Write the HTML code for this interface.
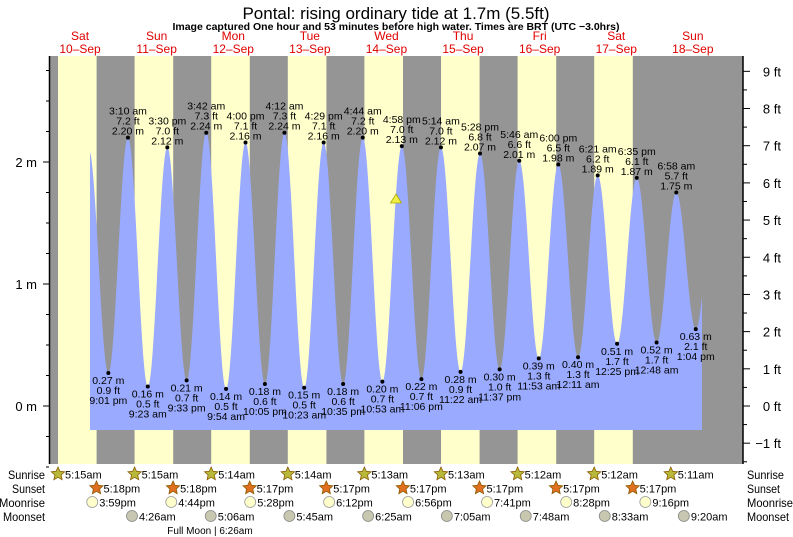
<!DOCTYPE html>
<html><head><meta charset="utf-8"><style>
body{margin:0;background:#fff;}
svg{display:block;font-family:"Liberation Sans",sans-serif;}
</style></head><body>
<svg id="s" width="793" height="537" viewBox="0 0 793 537" xmlns="http://www.w3.org/2000/svg">
<rect x="0" y="0" width="793" height="537" fill="#fff"/>
<text x="396" y="19" font-size="17" text-anchor="middle" fill="#000">Pontal: rising  ordinary tide at 1.7m (5.5ft)</text>
<text x="396" y="30" font-size="10.5" font-weight="bold" text-anchor="middle" fill="#000">Image captured One hour and 53 minutes before high water. Times are BRT (UTC −3.0hrs)</text>
<g id="g"></g>
</svg>
<script>
var NS="http://www.w3.org/2000/svg",g=document.getElementById('g');
function el(t,a,txt){var e=document.createElementNS(NS,t);for(var k in a)e.setAttribute(k,a[k]);if(txt!=null)e.textContent=txt;g.appendChild(e);return e;}
var X0=41.25,PH=76.6/24;
function X(h){return X0+h*PH;}
function Y(m){return 406-m*122;}
el('rect',{x:50,y:56,width:693,height:408,fill:'#959595'});
for(var k=0;k<8;k++){el('rect',{x:58+76.6*k,y:56,width:38.6,height:408,fill:'#ffffcc'});}
var days=[['Sat','10–Sep'],['Sun','11–Sep'],['Mon','12–Sep'],['Tue','13–Sep'],['Wed','14–Sep'],['Thu','15–Sep'],['Fri','16–Sep'],['Sat','17–Sep'],['Sun','18–Sep']];
days.forEach(function(d,i){var cx=X(12+24*i)+0.5;el('text',{x:cx,y:40,'font-size':12,fill:'#e00000','text-anchor':'middle'},d[0]);el('text',{x:cx,y:53,'font-size':12,fill:'#e00000','text-anchor':'middle'},d[1]);});
var P=[[14.9,2.1,0],[21.02,0.27,'9:01 pm'],[27.17,2.20,'3:10 am'],[33.38,0.16,'9:23 am'],[39.5,2.12,'3:30 pm'],[45.55,0.21,'9:33 pm'],[51.7,2.24,'3:42 am'],[57.9,0.14,'9:54 am'],[64,2.16,'4:00 pm'],[70.08,0.18,'10:05 pm'],[76.2,2.24,'4:12 am'],[82.38,0.15,'10:23 am'],[88.48,2.16,'4:29 pm'],[94.58,0.18,'10:35 pm'],[100.73,2.20,'4:44 am'],[106.88,0.20,'10:53 am'],[112.97,2.13,'4:58 pm'],[119.1,0.22,'11:06 pm'],[125.23,2.12,'5:14 am'],[131.37,0.28,'11:22 am'],[137.47,2.07,'5:28 pm'],[143.62,0.30,'11:37 pm'],[149.77,2.01,'5:46 am'],[155.88,0.39,'11:53 am'],[162,1.98,'6:00 pm'],[168.18,0.40,'12:11 am'],[174.35,1.89,'6:21 am'],[180.42,0.51,'12:25 pm'],[186.58,1.87,'6:35 pm'],[192.8,0.52,'12:48 am'],[198.97,1.75,'6:58 am'],[205.07,0.63,'1:04 pm'],[211.2,1.8,0]];
var hs=(90-X0)/PH,he=(702-X0)/PH,d='M90,430';
for(var h=hs;h<=he+0.001;h+=0.05){var i=0;while(i<P.length-2&&P[i+1][0]<h)i++;var a=P[i],b=P[i+1];var t=(h-a[0])/(b[0]-a[0]);var v=a[1]+(b[1]-a[1])*(1-Math.cos(Math.PI*t))/2;d+=' L'+X(h).toFixed(2)+','+Y(v).toFixed(2);}
d+=' L702,430 Z';
el('path',{d:d,fill:'#99aaff'});
P.forEach(function(p,i){if(!p[2])return;var x=X(p[0]),y=Y(p[1]);el('circle',{cx:x,cy:y,r:2,fill:'#000'});var f=(p[1]/0.3048).toFixed(1)+' ft',m=p[1].toFixed(2)+' m';var hi=p[1]>1;var a={'font-size':10.5,'text-anchor':'middle',fill:'#000'};
if(hi){a.x=x;a.y=y-23;el('text',a,p[2]);a.y=y-13;el('text',a,f);a.y=y-3;el('text',a,m);}
else{a.x=x;a.y=y+11;el('text',a,m);a.y=y+21;el('text',a,f);a.y=y+31;el('text',a,p[2]);}});
el('polygon',{points:'390.5,203 401.5,203 396,194',fill:'#eeee44',stroke:'#aaaa00','stroke-width':0.8});
el('line',{x1:49.5,y1:56,x2:49.5,y2:464,stroke:'#000','stroke-width':1.5});
el('line',{x1:743,y1:56,x2:743,y2:464,stroke:'#000','stroke-width':1.5});
for(var m=-0.5;m<=2.75;m+=0.25){var y=Y(m);var big=Math.abs(m-Math.round(m))<0.01;el('line',{x1:big?43:46,y1:y,x2:49,y2:y,stroke:'#000'});if(big)el('text',{x:37,y:y+5,'font-size':13,'text-anchor':'end',fill:'#000'},Math.round(m)+' m');}
for(var f2=-1.5;f2<=9.5;f2+=0.5){var y=Y(f2*0.3048);if(y<56||y>464)continue;var big=Math.abs(f2-Math.round(f2))<0.01;el('line',{x1:743,y1:y,x2:big?750:747,y2:y,stroke:'#000'});if(big)el('text',{x:781,y:y+5,'font-size':13,'text-anchor':'end',fill:'#000'},(f2<0?'−1':Math.round(f2))+' ft');}
var rows=['Sunrise','Sunset','Moonrise','Moonset'],ry=[474,488,502,516],lw=[37,33,46,42];
rows.forEach(function(r,i){el('text',{x:45,y:ry[i]+5,'font-size':12,'text-anchor':'end',textLength:lw[i],lengthAdjust:'spacingAndGlyphs',fill:'#000'},r);el('text',{x:747,y:ry[i]+5,'font-size':12,textLength:lw[i],lengthAdjust:'spacingAndGlyphs',fill:'#000'},r);});
function star(x,y,fc){var pts=[];for(var k=0;k<10;k++){var r=k%2?3.3:7,a=-Math.PI/2+k*Math.PI/5;pts.push((x+r*Math.cos(a)).toFixed(1)+','+(y+r*Math.sin(a)).toFixed(1));}el('polygon',{points:pts.join(' '),fill:fc,stroke:'#8a5a00','stroke-width':0.8});}
function txt(x,y,s){el('text',{x:x,y:y+4.5,'font-size':11,fill:'#000'},s);}
var sr=['5:15am','5:15am','5:14am','5:14am','5:13am','5:13am','5:12am','5:12am','5:11am'];
var ss=['5:18pm','5:18pm','5:17pm','5:17pm','5:17pm','5:17pm','5:17pm','5:17pm'];
var mr=[['3:59pm',15.98],['4:44pm',16.73],['5:28pm',17.47],['6:12pm',18.2],['6:56pm',18.93],['7:41pm',19.68],['8:28pm',20.47],['9:16pm',21.27]];
var ms=[['4:26am',4.43],['5:06am',5.1],['5:45am',5.75],['6:25am',6.42],['7:05am',7.08],['7:48am',7.8],['8:33am',8.55],['9:20am',9.33]];
sr.forEach(function(s,i){var x=X(24*i+5.25);star(x,474,'#b8b83a');txt(x+7,474,s);});
ss.forEach(function(s,i){var x=X(24*i+17.3);star(x,488,'#e07020');txt(x+7,488,s);});
mr.forEach(function(s,i){var x=X(24*i+s[1]);el('circle',{cx:x,cy:502,r:5.5,fill:'#ffffcc',stroke:'#999','stroke-width':0.8});txt(x+7,502,s[0]);});
ms.forEach(function(s,i){var x=X(24*(i+1)+s[1]);el('circle',{cx:x,cy:516,r:5.5,fill:'#c8c8b0',stroke:'#888','stroke-width':0.8});txt(x+7,516,s[0]);});
el('text',{x:210,y:534,'font-size':10,'text-anchor':'middle',fill:'#000'},'Full Moon | 6:26am');
</script>
</body></html>
